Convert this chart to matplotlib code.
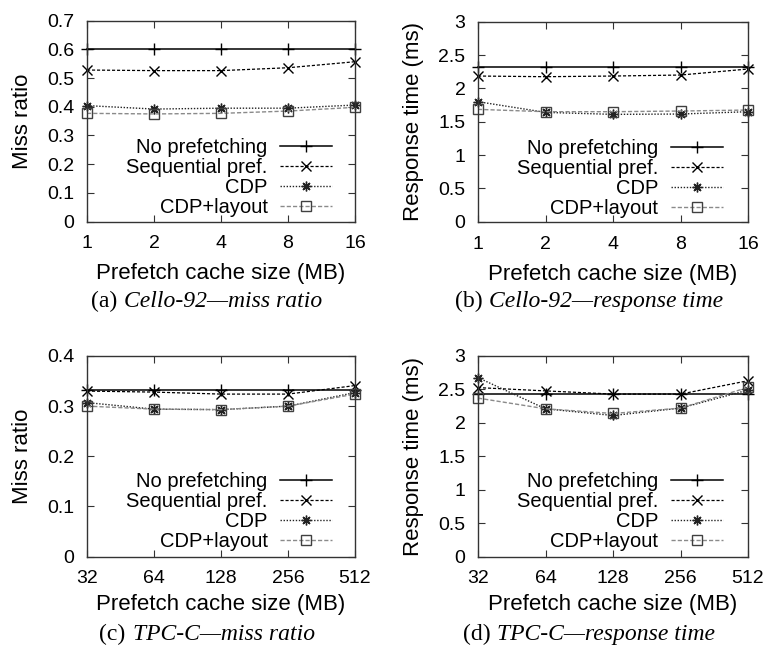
import numpy as np
import matplotlib
matplotlib.use("Agg")
import matplotlib.pyplot as plt
from matplotlib.offsetbox import TextArea, HPacker, AnnotationBbox

plt.rcParams["font.family"] = ["Liberation Sans", "DejaVu Sans"]

# === Data ===

cello_sizes = ["1", "2", "4", "8", "16"]
tpcc_sizes = ["32", "64", "128", "256", "512"]

series_names = ["No prefetching", "Sequential pref.", "CDP", "CDP+layout"]

# (a) Cello-92 miss ratio
cello_miss_none = [0.600, 0.600, 0.600, 0.600, 0.600]
cello_miss_seq = [0.528, 0.526, 0.526, 0.536, 0.557]
cello_miss_cdp = [0.404, 0.392, 0.395, 0.395, 0.406]
cello_miss_layout = [0.377, 0.375, 0.377, 0.385, 0.398]

# (b) Cello-92 response time (ms)
cello_rt_none = [2.316, 2.316, 2.316, 2.316, 2.316]
cello_rt_seq = [2.185, 2.175, 2.185, 2.20, 2.29]
cello_rt_cdp = [1.80, 1.64, 1.61, 1.615, 1.65]
cello_rt_layout = [1.685, 1.65, 1.65, 1.66, 1.675]

# (c) TPC-C miss ratio
tpcc_miss_none = [0.332, 0.332, 0.332, 0.332, 0.332]
tpcc_miss_seq = [0.330, 0.328, 0.324, 0.324, 0.341]
tpcc_miss_cdp = [0.307, 0.294, 0.293, 0.300, 0.327]
tpcc_miss_layout = [0.300, 0.294, 0.293, 0.300, 0.324]

# (d) TPC-C response time (ms)
tpcc_rt_none = [2.43, 2.43, 2.43, 2.43, 2.43]
tpcc_rt_seq = [2.527, 2.478, 2.43, 2.43, 2.63]
tpcc_rt_cdp = [2.676, 2.21, 2.11, 2.22, 2.49]
tpcc_rt_layout = [2.37, 2.21, 2.14, 2.22, 2.53]

# gnuplot-ish styles for the four series
styles = [
    dict(color="black", linestyle="-", linewidth=1.1, marker="+", markersize=9, markeredgewidth=1.0),
    dict(color="black", linestyle=(0, (2.5, 1.5)), linewidth=0.9, marker="x", markersize=7, markeredgewidth=1.0),
    dict(color="#222222", linestyle=(0, (1, 1.2)), linewidth=1.0, marker=(8, 2, 0), markersize=7, markeredgewidth=1.0),
    dict(color="#8a8a8a", linestyle=(0, (3, 1.5)), linewidth=1.0, marker="s", markersize=7,
         markerfacecolor="none", markeredgecolor="#404040", markeredgewidth=1.0),
]

panels = [
    # axes box (px), xlabels, data, ylim, yticks, yticklabels, ylabel, xlabel pad,
    # caption, caption centre (px), legend anchor
    ([87, 20.7, 355, 221.5], cello_sizes,
     [cello_miss_none, cello_miss_seq, cello_miss_cdp, cello_miss_layout],
     (0, 0.7), np.arange(0, 0.71, 0.1), ["0", "0.1", "0.2", "0.3", "0.4", "0.5", "0.6", "0.7"],
     "Miss ratio", 8, "(a)", "Cello-92\u2014miss ratio", (207, 301), (0.914, 0.02)),
    ([478, 21.7, 748, 221.7], cello_sizes,
     [cello_rt_none, cello_rt_seq, cello_rt_cdp, cello_rt_layout],
     (0, 3), np.arange(0, 3.01, 0.5), ["0", "0.5", "1", "1.5", "2", "2.5", "3"],
     "Response time (ms)", 8, "(b)", "Cello-92\u2014response time", (589, 301), (0.907, 0.02)),
    ([87, 356, 355, 556.5], tpcc_sizes,
     [tpcc_miss_none, tpcc_miss_seq, tpcc_miss_cdp, tpcc_miss_layout],
     (0, 0.4), np.arange(0, 0.41, 0.1), ["0", "0.1", "0.2", "0.3", "0.4"],
     "Miss ratio", 5, "(c)", "TPC-C\u2014miss ratio", (207, 634), (0.914, 0.026)),
    ([478, 356, 748, 556.5], tpcc_sizes,
     [tpcc_rt_none, tpcc_rt_seq, tpcc_rt_cdp, tpcc_rt_layout],
     (0, 3), np.arange(0, 3.01, 0.5), ["0", "0.5", "1", "1.5", "2", "2.5", "3"],
     "Response time (ms)", 5, "(d)", "TPC-C\u2014response time", (589, 634), (0.907, 0.026)),
]

W, H = 765, 656
fig = plt.figure(figsize=(W / 100, H / 100), dpi=100)

for (box, xlabels, data, ylim, yticks, yticklabels, ylabel, xpad,
     cap_a, cap_b, cap_pos, leg_anchor) in panels:
    x0, y0, x1, y1 = box
    ax = fig.add_axes([x0 / W, 1 - y1 / H, (x1 - x0) / W, (y1 - y0) / H])
    x = np.arange(len(xlabels))
    for name, vals, st in zip(series_names, data, styles):
        ax.plot(x, vals, label=name, clip_on=False, **st)

    ax.set_xlim(0, len(xlabels) - 1)
    ax.set_ylim(*ylim)
    ax.set_xticks(x)
    ax.set_xticklabels(xlabels)
    ax.set_yticks(yticks)
    ax.set_yticklabels(yticklabels)
    ax.tick_params(direction="in", top=True, right=True, length=5, width=0.8,
                   labelsize=14, pad=9, color="#333333")
    ax.tick_params(axis="x", pad=10)
    for sp in ax.spines.values():
        sp.set_color("#333333")
        sp.set_linewidth(1.0)

    ax.set_xlabel("Prefetch cache size (MB)", fontsize=16, labelpad=xpad)
    ax.set_ylabel(ylabel, fontsize=16, labelpad=10)

    ax.legend(loc="lower right", bbox_to_anchor=leg_anchor, frameon=False,
              markerfirst=False, fontsize=14.5, handlelength=2.6,
              handletextpad=0.6, labelspacing=0.05, borderpad=0, borderaxespad=0)

    # caption: "(a)" upright, the rest italic, in a serif face
    t1 = TextArea(cap_a, textprops=dict(family="Liberation Serif", fontsize=17))
    t2 = TextArea(cap_b, textprops=dict(family="Liberation Serif", fontsize=17, style="italic"))
    pack = HPacker(children=[t1, t2], align="baseline", pad=0, sep=5)
    ab = AnnotationBbox(pack, (cap_pos[0] / W, 1 - cap_pos[1] / H), xycoords="figure fraction",
                        frameon=False, box_alignment=(0.5, 0.5), pad=0)
    fig.add_artist(ab)

fig.savefig("out.png", dpi=100)
